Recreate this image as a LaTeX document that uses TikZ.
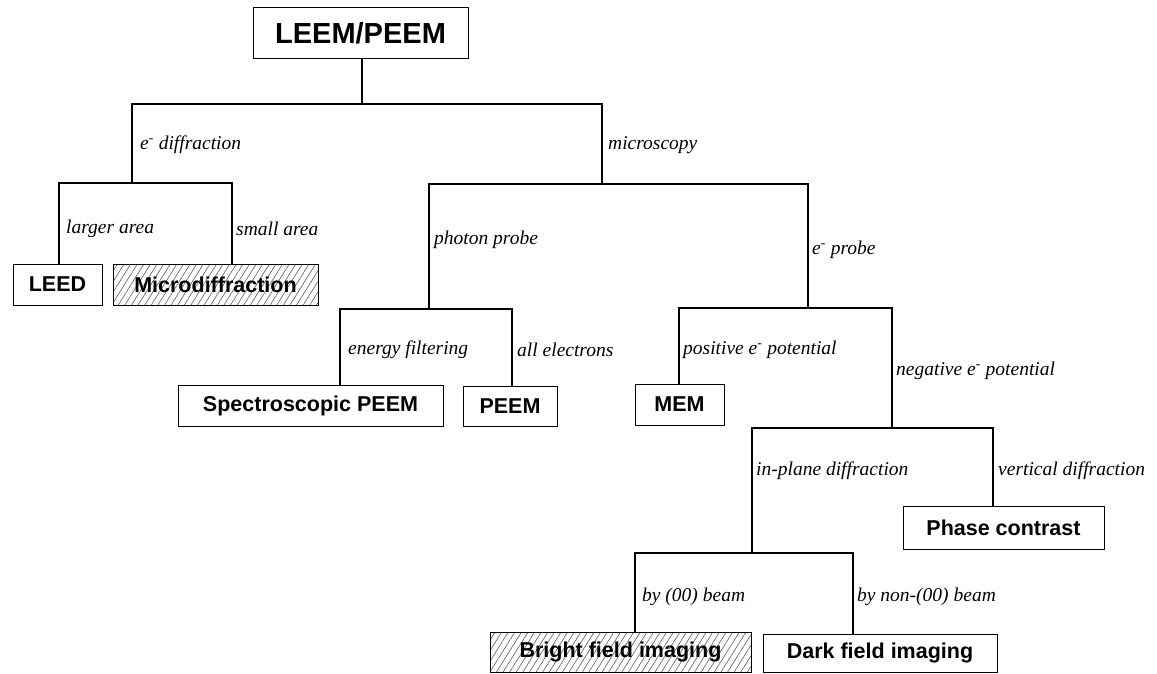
\documentclass[tikz,border=0pt]{standalone}
\usepackage{fontspec}
\setmainfont{Liberation Serif}
\newfontfamily\boxfont{Liberation Sans}
\usetikzlibrary{patterns.meta}
\tikzset{
  box/.style={draw=black, line width=1pt, inner sep=0pt, font=\boxfont\bfseries\fontsize{21.5}{24}\selectfont},
  hatched/.style={pattern={Lines[angle=58,distance=5.6pt,line width=0.6pt]}, pattern color=black!65},
  conn/.style={line width=2pt, line cap=rect},
  lab/.style={anchor=west, inner sep=0pt, font=\itshape\fontsize{19.5}{22}\selectfont}
}
\newcommand{\elec}{e\textsuperscript{-}}
\begin{document}
\begin{tikzpicture}[x=1pt,y=-1pt]
\useasboundingbox (0,0) rectangle (1157,674);
% boxes
\node[box, minimum width=215pt, minimum height=51pt, font=\boxfont\bfseries\fontsize{29}{32}\selectfont] (root) at (360.5,33.5) {LEEM/PEEM};
\node[box, minimum width=89pt, minimum height=41pt] (leed) at (57.5,284.5) {LEED};
\node[box, hatched, minimum width=205pt, minimum height=41pt] (micro) at (215.5,284.5) {Microdiffraction};
\node[box, minimum width=265pt, minimum height=41pt] (spec) at (310.5,405.5) {Spectroscopic PEEM};
\node[box, minimum width=94pt, minimum height=40pt] (peem) at (510,406) {PEEM};
\node[box, minimum width=89pt, minimum height=41pt] (mem) at (679.5,404.5) {MEM};
\node[box, minimum width=201pt, minimum height=43pt] (phase) at (1003.5,527.5) {Phase contrast};
\node[box, hatched, minimum width=261pt, minimum height=40pt] (bright) at (620.5,652) {Bright field imaging};
\node[box, minimum width=234pt, minimum height=38pt] (dark) at (880,653) {Dark field imaging};
% junction coordinates
\coordinate (r0) at (362,104);
\coordinate (a) at (132,104);
\coordinate (b) at (602,104);
\coordinate (a1) at (132,183);
\coordinate (a1L) at (59,183);
\coordinate (a1R) at (232,183);
\coordinate (b1) at (602,184);
\coordinate (pL) at (429,184);
\coordinate (eR) at (808,184);
\coordinate (p1) at (429,309);
\coordinate (p1L) at (340,309);
\coordinate (p1R) at (512,309);
\coordinate (e1) at (808,308);
\coordinate (e1L) at (679,308);
\coordinate (e1R) at (892,308);
\coordinate (n1) at (892,428);
\coordinate (n1L) at (752,428);
\coordinate (n1R) at (993,428);
\coordinate (i1) at (752,553);
\coordinate (i1L) at (635,553);
\coordinate (i1R) at (853,553);
% connectors
\draw[conn] (root.south -| r0) -- (r0);
\draw[conn] (a1) -- (a) -- (b) -- (b1);
\draw[conn] (leed.north -| a1L) -- (a1L) -- (a1R) -- (micro.north -| a1R);
\draw[conn] (p1) -- (pL) -- (eR) -- (e1);
\draw[conn] (spec.north -| p1L) -- (p1L) -- (p1R) -- (peem.north -| p1R);
\draw[conn] (mem.north -| e1L) -- (e1L) -- (e1R) -- (n1);
\draw[conn] (i1) -- (n1L) -- (n1R) -- (phase.north -| n1R);
\draw[conn] (bright.north -| i1L) -- (i1L) -- (i1R) -- (dark.north -| i1R);
% labels
\node[lab] (l1) at (140,145) {\elec\ diffraction};
\node[lab] (l2) at (608,145) {microscopy};
\node[lab] (l3) at (66,229) {larger area};
\node[lab] (l4) at (236,229) {small area};
\node[lab] (l5) at (434,240) {photon probe};
\node[lab] (l6) at (812,250) {\elec\ probe};
\node[lab] (l7) at (348,350) {energy filtering};
\node[lab] (l8) at (517,350) {all electrons};
\node[lab] (l9) at (683,350) {positive \elec\ potential};
\node[lab] (l10) at (896,371) {negative \elec\ potential};
\node[lab] (l11) at (756,471) {in-plane diffraction};
\node[lab] (l12) at (998,471) {vertical diffraction};
\node[lab] (l13) at (642,597) {by (00) beam};
\node[lab] (l14) at (857,597) {by non-(00) beam};
\end{tikzpicture}
\end{document}
